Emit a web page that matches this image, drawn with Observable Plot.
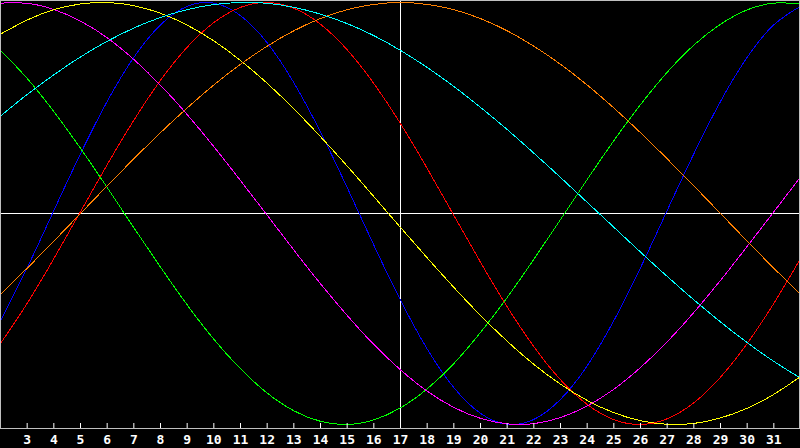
<!DOCTYPE html>
<html>
<head>
<meta charset="utf-8">
<script src="https://cdn.jsdelivr.net/npm/d3@7"></script>
<script src="https://cdn.jsdelivr.net/npm/@observablehq/plot@0.6"></script>
<style>
html, body { margin: 0; padding: 0; background: #000; overflow: hidden; }
#chart svg { display: block; }
</style>
</head>
<body>
<div id="chart"></div>
<script>
// Day numbers along the x axis (the visible window spans day 2 to day 32)
const days = [2,3,4,5,6,7,8,9,10,11,12,13,14,15,16,17,18,19,20,21,22,23,24,25,26,27,28,29,30,31,32];
const tickDays = [3,4,5,6,7,8,9,10,11,12,13,14,15,16,17,18,19,20,21,22,23,24,25,26,27,28,29,30,31];

// Values (-1..1), one per day
const cycle23 = [-0.508,-0.257,0.014,0.283,0.531,0.740,0.894,0.982,0.997,0.938,0.809,0.620,0.386,0.123,-0.150,-0.411,-0.642,-0.825,-0.947,-0.999,-0.976,-0.881,-0.722,-0.508,-0.257,0.014,0.283,0.531,0.740,0.894,0.982];
const cycle28 = [-0.616,-0.426,-0.214,0.009,0.231,0.442,0.631,0.788,0.905,0.977,1.000,0.973,0.897,0.776,0.616,0.426,0.214,-0.009,-0.231,-0.442,-0.631,-0.788,-0.905,-0.977,-1.000,-0.973,-0.897,-0.776,-0.616,-0.426,-0.214];
const cycle33 = [0.774,0.640,0.483,0.309,0.123,-0.067,-0.254,-0.433,-0.596,-0.736,-0.851,-0.935,-0.985,-1.000,-0.978,-0.921,-0.831,-0.711,-0.564,-0.398,-0.217,-0.029,0.161,0.345,0.516,0.669,0.798,0.897,0.965,0.997,0.993];
const cycle38 = [0.997,0.996,0.967,0.912,0.833,0.730,0.608,0.469,0.317,0.156,-0.008,-0.173,-0.333,-0.483,-0.621,-0.741,-0.842,-0.919,-0.971,-0.997,-0.996,-0.967,-0.912,-0.833,-0.730,-0.608,-0.469,-0.317,-0.156,0.008,0.173];
const cycle43 = [0.850,0.917,0.966,0.993,1.000,0.985,0.949,0.893,0.818,0.725,0.617,0.496,0.364,0.225,0.080,-0.066,-0.210,-0.350,-0.483,-0.605,-0.715,-0.809,-0.886,-0.944,-0.982,-0.999,-0.995,-0.969,-0.923,-0.857,-0.773];
const cycle48 = [-0.383,-0.259,-0.131,0.000,0.131,0.259,0.383,0.500,0.609,0.707,0.793,0.866,0.924,0.966,0.991,1.000,0.991,0.966,0.924,0.866,0.793,0.707,0.609,0.500,0.383,0.259,0.131,0.000,-0.131,-0.259,-0.383];
const cycle53 = [0.462,0.564,0.657,0.742,0.816,0.879,0.929,0.966,0.990,1.000,0.996,0.977,0.945,0.900,0.843,0.773,0.692,0.602,0.503,0.398,0.286,0.171,0.053,-0.065,-0.183,-0.298,-0.409,-0.514,-0.612,-0.701,-0.780];

const seriesNames = ["c23", "c28", "c33", "c38", "c43", "c48", "c53"];
const seriesColors = ["#0000ff", "#ff0000", "#00ff00", "#ff00ff", "#ffff00", "#ff8000", "#00ffff"];
const seriesValues = [cycle23, cycle28, cycle33, cycle38, cycle43, cycle48, cycle53];

const rows = [];
seriesNames.forEach((name, i) => {
  days.forEach((day, j) => rows.push({series: name, day, value: seriesValues[i][j]}));
});

const chart = Plot.plot({
  width: 800,
  height: 448,
  marginTop: 0,
  marginLeft: 0,
  marginRight: 1,
  marginBottom: 20,
  style: {background: "#000", color: "#fff"},
  x: {domain: [2, 32], range: [0, 800]},
  y: {domain: [-1, 1], range: [424, 2], axis: null},
  color: {domain: seriesNames, range: seriesColors},
  marks: [
    Plot.ruleY([0], {stroke: "#ffffff", strokeWidth: 1}),
    Plot.ruleX([17], {stroke: "#ffffff", strokeWidth: 1}),
    Plot.line(rows, {x: "day", y: "value", z: "series", stroke: "series", curve: "natural", strokeWidth: 1, shapeRendering: "crispEdges"}),
    Plot.ruleX(tickDays, {stroke: "#ffffff", insetTop: 423}),
    Plot.axisX({ticks: tickDays, tickSize: 0, tickPadding: 6, label: null, fill: "#ffffff", fontFamily: "DejaVu Sans Mono", fontWeight: "bold", fontSize: 13}),
    Plot.frame({stroke: "#c0c0c0"})
  ]
});
document.getElementById("chart").append(chart);
</script>
</body>
</html>
